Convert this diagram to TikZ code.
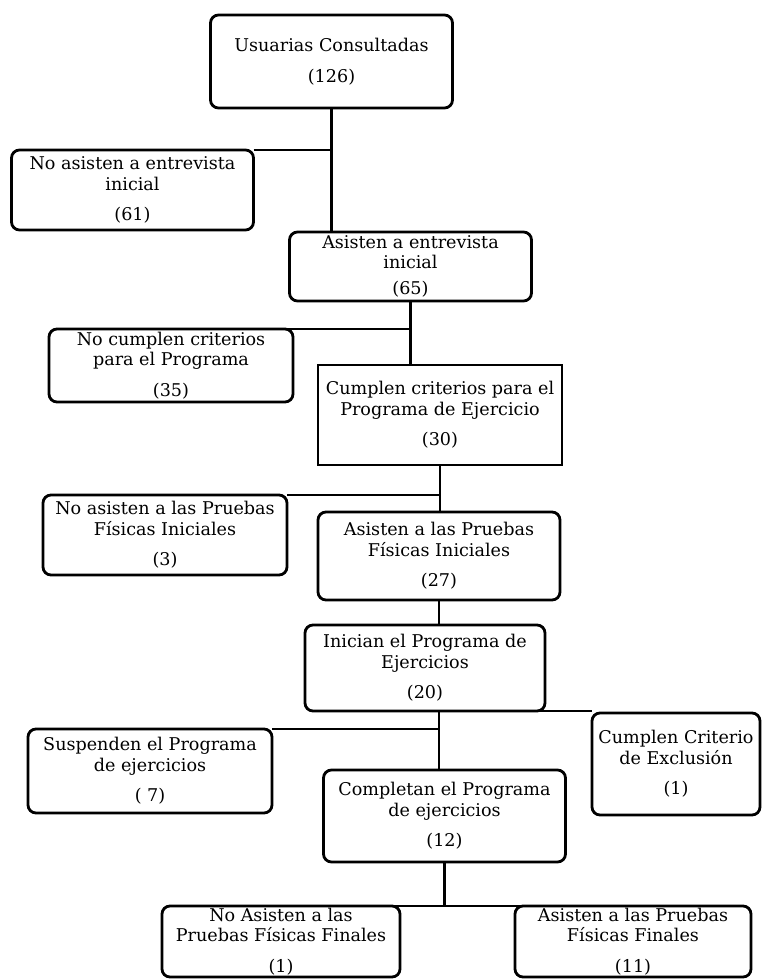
\documentclass[tikz,border=0pt]{standalone}
\usepackage{fontspec}
\setmainfont{DejaVu Serif}
\usetikzlibrary{positioning}

\begin{document}
\begin{tikzpicture}[line width=2pt,every node/.style={font=\fontsize{12.5}{14.5}\selectfont},box/.style={draw,rounded corners=2mm,align=center,minimum width=60.5mm,inner sep=0.5pt,outer sep=0pt}]
\useasboundingbox (0,0) rectangle (190.5mm,-244.75mm);
\node[box,minimum height=23.25mm] (usu) at (82.875mm,-15.375mm) {Usuarias Consultadas\\[2.5mm](126)};
\node[box,minimum height=20mm,below=10.5mm of usu,xshift=-49.75mm] (noent) {No asisten a entrevista\\inicial\\[2.5mm](61)};
\node[box,minimum height=17.25mm,below=31mm of usu,xshift=19.75mm] (ent) {Asisten a entrevista\\inicial\\[1.5mm](65)};
\draw (usu.south) -- (usu.south |- ent.north); \draw (noent.north east) -- (noent.north east -| usu.south);
\node[box,minimum height=18.25mm,minimum width=61mm,below=7mm of ent,xshift=-59.875mm] (nocum) {No cumplen criterios\\para el Programa\\[2.5mm](35)};
\node[box,sharp corners,minimum height=25mm,minimum width=61mm,below=16mm of ent,xshift=7.375mm] (cum) {Cumplen criterios para el\\Programa de Ejercicio\\[2.5mm](30)};
\draw (ent.south) -- (ent.south |- cum.north); \draw (nocum.north) -- (nocum.north -| ent.south);
\node[box,minimum height=20mm,minimum width=61mm,below=7.5mm of cum,xshift=-68.75mm] (nopf) {No asisten a las Pruebas\\Físicas Iniciales\\[2.5mm](3)};
\node[box,minimum height=22mm,below=11.75mm of cum,xshift=-0.25mm] (pf) {Asisten a las Pruebas\\Físicas Iniciales\\[2.5mm](27)};
\draw (cum.south) -- (cum.south |- pf.north); \draw (nopf.north east) -- (nopf.north east -| cum.south);
\node[box,minimum height=21.5mm,minimum width=60mm,below=6.25mm of pf,xshift=-3.5mm] (ini) {Inician el Programa de\\Ejercicios\\[2.5mm](20)};
\draw (pf.south) -- (pf.south |- ini.north);
\node[box,minimum height=21mm,minimum width=61mm,below=4.5mm of ini,xshift=-68.75mm] (susp) {Suspenden el Programa\\de ejercicios\\[2.5mm]( 7)};
\node[box,minimum height=25.5mm,minimum width=42mm,below=0.5mm of ini,xshift=62.75mm] (excl) {Cumplen Criterio\\de Exclusión\\[2.5mm](1)};
\node[box,minimum height=23mm,below=14.75mm of ini,xshift=4.875mm] (comp) {Completan el Programa\\de ejercicios\\[2.5mm](12)};
\draw (ini.south -| pf.south) -- (comp.north -| pf.south); \draw (susp.north east) -- (susp.north east -| pf.south);
\draw (ini.south) -- (ini.south -| excl.north west);
\node[box,minimum height=17.75mm,minimum width=59.5mm,below=11mm of comp,xshift=-40.875mm] (nopff) {No Asisten a las\\Pruebas Físicas Finales\\[2.5mm](1)};
\node[box,minimum height=17.75mm,minimum width=59mm,below=11mm of comp,xshift=47.125mm] (pff) {Asisten a las Pruebas\\Físicas Finales\\[2.5mm](11)};
\draw (comp.south) -- (comp.south |- nopff.north); \draw (nopff.north) -- (pff.north);
\end{tikzpicture}
\end{document}
